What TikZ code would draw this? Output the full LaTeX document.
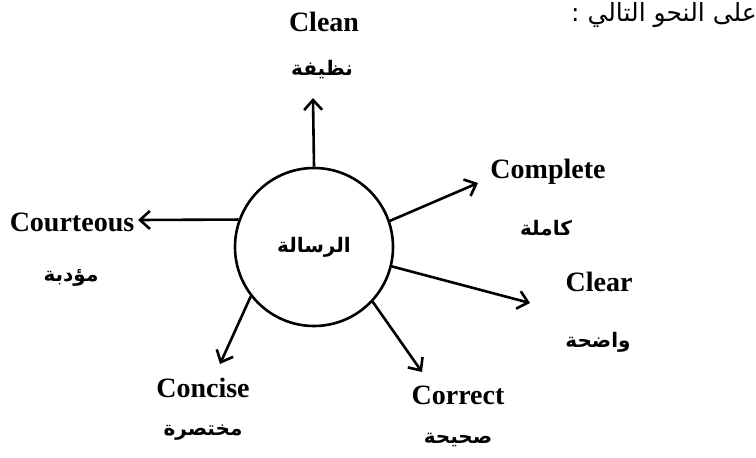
\documentclass[tikz,border=0pt]{standalone}
\usepackage{fontspec}
\setmainfont{Liberation Serif}
\newfontfamily\arabicfont[Script=Arabic]{DejaVu Sans}
\TeXXeTstate=1
\usetikzlibrary{arrows.meta}
\begin{document}
\begin{tikzpicture}[x=1pt,y=-1pt,
  en/.style={font=\fontsize{28}{30}\selectfont\bfseries, inner sep=0pt},
  ar/.style={font=\arabicfont\bfseries\fontsize{20}{24}\selectfont, inner sep=0pt},
  arreg/.style={font=\arabicfont\fontsize{25}{29}\selectfont, inner sep=0pt},
  conn/.style={line width=2.6pt,-{Straight Barb[length=10pt,width=18pt,line width=2.6pt]}},
  ring/.style={circle,draw,line width=2.6pt,minimum size=158pt,inner sep=0pt}]
\useasboundingbox (0,0) rectangle (756,458);
% heading
\node[arreg,anchor=east] (head) at (757,15) {\beginR على النحو التالي :\endR};
% centre
\node[ring,ar] (msg) at (314,247) {\beginR الرسالة\endR};
% labels
\node[en] (clean) at (324,22) {Clean};
\node[ar] (cleanar) at (322,70) {\beginR نظيفة\endR};
\node[en] (complete) at (548,172) {Complete};
\node[ar] (completear) at (546,228) {\beginR كاملة\endR};
\node[en] (clear) at (599,282) {Clear};
\node[ar] (clearar) at (598,342) {\beginR واضحة\endR};
\node[en] (correct) at (458,395) {Correct};
\node[ar] (correctar) at (458,440) {\beginR صحيحة\endR};
\node[en] (concise) at (203,388) {Concise};
\node[ar] (concisear) at (203,433) {\beginR مختصرة\endR};
\node[en] (courteous) at (72,222) {Courteous};
\node[ar] (courteousar) at (71,278) {\beginR مؤدبة\endR};
% arrow tips
\coordinate (tclean) at (313,98);
\coordinate (tcomplete) at (478,183);
\coordinate (tclear) at (530,303);
\coordinate (tcorrect) at (422,372);
\coordinate (tconcise) at (220,364);
\coordinate (tcourteous) at (138,220);
% connectors
\draw[conn] (msg.90) -- (tclean);
\draw[conn] (msg.19) -- (tcomplete);
\draw[conn] (msg.-14) -- (tclear);
\draw[conn] (msg.-43) -- (tcorrect);
\draw[conn] (msg.218) -- (tconcise);
\draw[conn] (msg.160) -- (tcourteous);
\end{tikzpicture}
\end{document}
